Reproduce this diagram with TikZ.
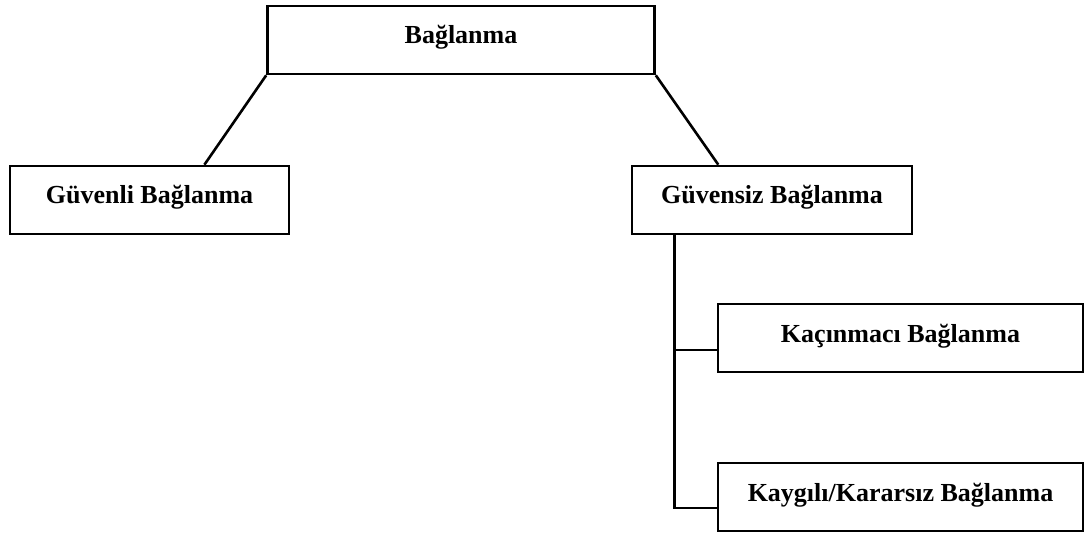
\documentclass[tikz,border=0pt]{standalone}
\usepackage{fontspec}
\setmainfont{Liberation Serif}
\usetikzlibrary{calc}

\tikzset{
  kutu/.style={draw, line width=2.6pt, font=\fontsize{26}{30}\selectfont\bfseries,
    minimum height=68pt, inner sep=0pt, text height=19.5pt, text depth=11.5pt},
  bag/.style={line width=2.6pt}
}

\begin{document}
\begin{tikzpicture}[x=1pt,y=-1pt]
  \useasboundingbox (0,0) rectangle (1086,534);

  \node[kutu, minimum width=387pt] (root) at (461,40) {Bağlanma};
  \node[kutu, minimum width=279pt] (secure) at (149.5,200) {Güvenli Bağlanma};
  \node[kutu, minimum width=280pt] (insecure) at (772,200) {Güvensiz Bağlanma};
  \node[kutu, minimum width=365pt] (avoid) at (900.5,338) {Kaçınmacı Bağlanma};
  \node[kutu, minimum width=365pt] (anx) at (900.5,497) {Kaygılı/Kararsız Bağlanma};

  % ust baglantilar
  \draw[bag] (root.south west) -- ($(secure.north)!0.39!(secure.north east)$);
  \draw[bag] (root.south east) -- ($(insecure.north)!0.38!(insecure.north west)$);

  % alt dallar
  \coordinate (trunk) at ([xshift=44pt]insecure.south west);
  \foreach \n/\d in {avoid/12,anx/11}{
    \draw[bag] (trunk) |- ([yshift=-\d pt]\n.west);
  }
\end{tikzpicture}
\end{document}
